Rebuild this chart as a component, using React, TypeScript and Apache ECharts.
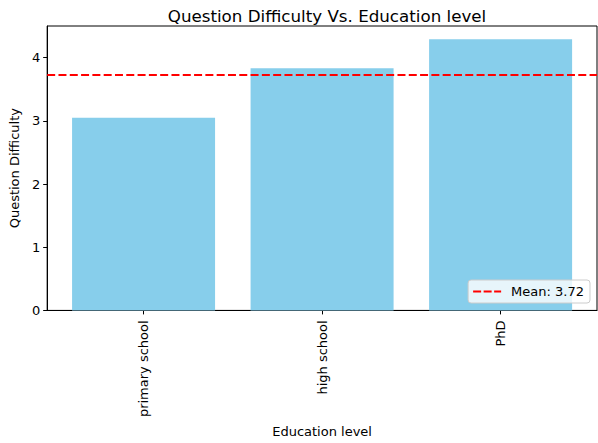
import React, { useEffect, useRef } from "react";
import * as echarts from "echarts";

const categories = ["primary school", "high school", "PhD"];
const difficulty = [3.05, 3.83, 4.29];
const yTicks = [0, 1, 2, 3, 4];
const xMin = -0.54;
const xMax = 2.54;

const FONT = "DejaVu Sans";
const DASH_ICON = "path://M0,0h8v2h-8z M10.5,0h8v2h-8z M21,0h7v2h-7z";

export default function App() {
  const ref = useRef<HTMLDivElement>(null);

  useEffect(() => {
    document.body.style.margin = "0";
    const chart = echarts.init(ref.current!, null, { renderer: "svg" });
    const mean = difficulty.reduce((a, b) => a + b, 0) / difficulty.length;
    const meanName = `Mean: ${mean.toFixed(2)}`;
    const catIdx = categories.map((_, i) => i);

    chart.setOption({
      animation: false,
      textStyle: { fontFamily: FONT },
      title: {
        text: "Question Difficulty Vs. Education level",
        left: 322,
        textAlign: "center",
        top: 2,
        textStyle: { fontFamily: FONT, fontSize: 16.7, fontWeight: "normal", color: "#000" },
      },
      grid: {
        left: 47,
        right: 1,
        top: 26,
        bottom: 132,
        show: true,
        borderColor: "#000",
        borderWidth: 1,
        backgroundColor: "transparent",
      },
      legend: {
        right: 8,
        bottom: 140,
        data: [{ name: meanName, icon: DASH_ICON }],
        itemWidth: 28,
        itemHeight: 2,
        padding: [5, 6, 5, 5],
        backgroundColor: "rgba(255,255,255,0.8)",
        borderColor: "#cccccc",
        borderWidth: 1,
        borderRadius: 3,
        textStyle: { fontFamily: FONT, fontSize: 13, color: "#000", padding: [0, 0, 0, 5] },
      },
      xAxis: {
        type: "value",
        min: xMin,
        max: xMax,
        name: "Education level",
        nameLocation: "middle",
        nameGap: 113,
        nameTextStyle: { fontFamily: FONT, fontSize: 13, color: "#000" },
        axisLine: { show: true, onZero: false, lineStyle: { color: "#000", width: 1 } },
        axisTick: { show: true, length: 4, lineStyle: { color: "#000" }, customValues: catIdx },
        axisLabel: {
          customValues: catIdx,
          rotate: 90,
          margin: 10,
          fontFamily: FONT,
          fontSize: 13,
          color: "#000",
          formatter: (v: number) => categories[Math.round(v)] ?? "",
        },
        splitLine: { show: false },
      },
      yAxis: {
        type: "value",
        min: 0,
        max: 4.5,
        name: "Question Difficulty",
        nameLocation: "middle",
        nameGap: 26,
        nameTextStyle: { fontFamily: FONT, fontSize: 13, color: "#000" },
        axisLine: { show: true, onZero: false, lineStyle: { color: "#000", width: 1 } },
        axisTick: { show: true, length: 4, lineStyle: { color: "#000" }, customValues: yTicks },
        axisLabel: {
          customValues: yTicks,
          margin: 7,
          fontFamily: FONT,
          fontSize: 13,
          color: "#000",
        },
        splitLine: { show: false },
      },
      series: [
        {
          type: "bar",
          name: "Question Difficulty",
          data: difficulty.map((v, i) => [i, v]),
          barWidth: 143,
          itemStyle: { color: "#87CEEB" },
          z: 2,
        },
        {
          type: "line",
          name: meanName,
          data: [
            [xMin, mean],
            [xMax, mean],
          ],
          symbol: "none",
          lineStyle: { color: "#ff0000", width: 2, type: [8, 3.3] },
          itemStyle: { color: "#ff0000" },
          z: 3,
        },
      ],
    });

    return () => chart.dispose();
  }, []);

  return <div ref={ref} style={{ width: 598, height: 443 }} />;
}
